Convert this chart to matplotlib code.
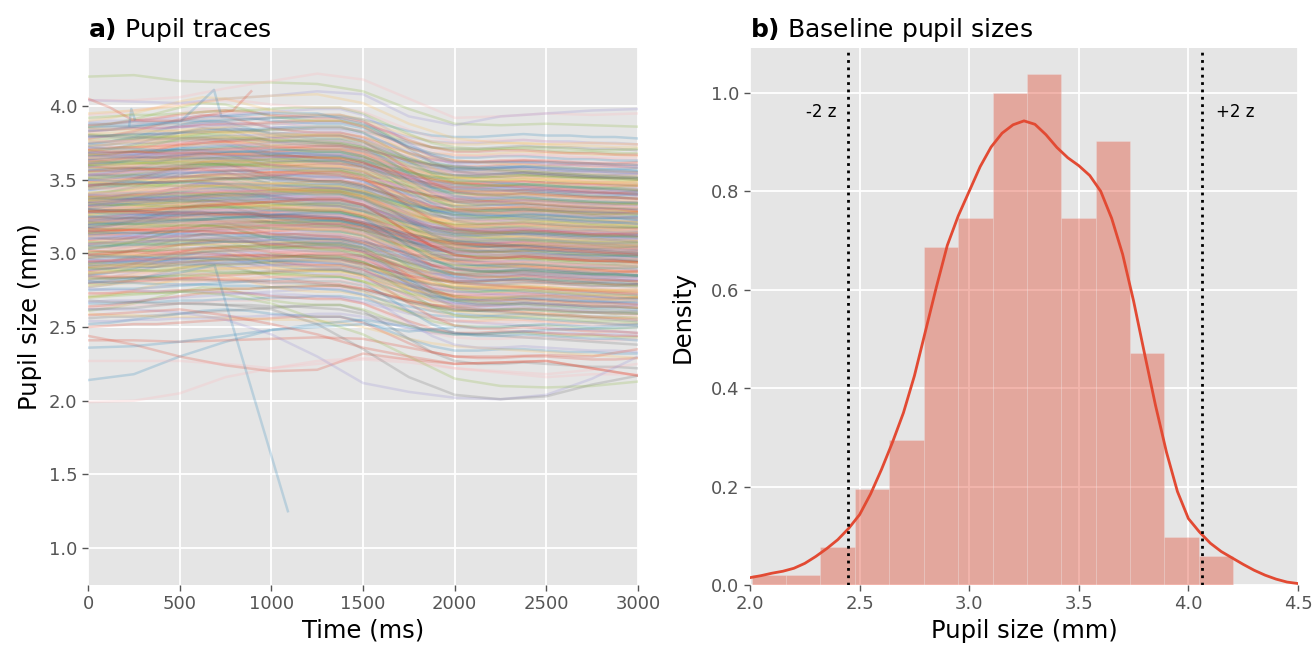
import matplotlib.pyplot as plt
import numpy as np

plt.style.use("ggplot")

palette = ["#E24A33", "#348ABD", "#988ED5", "#777777", "#FBC15E", "#8EBA42", "#FFB5B8"]

# ---- panel a: pupil traces -------------------------------------------------
# time grid of the typed trace shapes (ms)
shape_t = list(range(0, 3001, 125))

# change from baseline
shape_typical = [0, .01, .02, .02, .03, .04, .05, .05, .06, .07, .07, .07, .03,
                 -.04, -.11, -.17, -.20, -.21, -.21, -.20, -.20, -.21, -.22, -.22, -.21]
shape_early = [0, .01, .03, .05, .07, .09, .10, .09, .07, .06, .05, .05, .02,
               -.04, -.10, -.15, -.18, -.18, -.17, -.17, -.18, -.19, -.19, -.20, -.20]
shape_small = [0, 0, .01, .01, .02, .02, .03, .03, .04, .04, .05, .05, .03,
               -.01, -.05, -.08, -.09, -.09, -.08, -.07, -.08, -.08, -.09, -.09, -.10]
shape_large = [0, .01, .01, .02, .03, .04, .05, .06, .07, .08, .09, .09, .05,
               -.04, -.14, -.23, -.29, -.31, -.31, -.30, -.31, -.32, -.33, -.33, -.34]
shape_decline = [0, -.01, -.01, -.02, -.02, -.02, -.03, -.03, -.04, -.04, -.05, -.06, -.09,
                 -.13, -.17, -.20, -.22, -.23, -.24, -.25, -.26, -.27, -.28, -.29, -.30]
shape_bump = [0, .02, .05, .09, .13, .16, .15, .11, .07, .05, .04, .04, .01,
              -.05, -.10, -.14, -.16, -.16, -.15, -.15, -.16, -.17, -.17, -.18, -.18]
trace_shapes = [shape_typical, shape_early, shape_small, shape_large, shape_decline, shape_bump]

# baseline of each trace in the dense band (mm)
baselines = [
    2.50, 2.52, 2.54, 2.56, 2.59, 2.61, 2.63,
    2.64, 2.66, 2.67, 2.68, 2.70, 2.71, 2.72, 2.73, 2.75, 2.76, 2.77, 2.78, 2.79,
    2.80, 2.80, 2.81, 2.82, 2.82, 2.83, 2.83, 2.84, 2.85, 2.85, 2.86, 2.86, 2.87, 2.87,
    2.88, 2.88, 2.89, 2.89, 2.90, 2.90, 2.90, 2.91, 2.91, 2.92, 2.92, 2.93, 2.93, 2.93,
    2.94, 2.94, 2.94, 2.945, 2.84, 2.86, 2.91,
    2.95, 2.95, 2.96, 2.96, 2.97, 2.97, 2.98, 2.98, 2.99, 2.99, 3.00, 3.00, 3.01, 3.01,
    3.02, 3.02, 3.03, 3.03, 3.04, 3.04, 3.05, 3.05, 3.06, 3.06, 3.07, 3.07, 3.08, 3.08,
    3.09, 3.09, 3.10, 3.10, 2.97, 3.00, 3.03, 3.06, 2.99, 3.05,
    3.11, 3.11, 3.12, 3.12, 3.12, 3.13, 3.13, 3.13, 3.14, 3.14, 3.14, 3.15, 3.15, 3.15,
    3.16, 3.16, 3.16, 3.17, 3.17, 3.17, 3.18, 3.18, 3.18, 3.19, 3.19, 3.19, 3.20, 3.20,
    3.20, 3.21, 3.21, 3.21, 3.22, 3.22, 3.22, 3.23, 3.23, 3.23, 3.24, 3.24, 3.24, 3.25,
    3.25, 3.25, 3.26, 3.26, 3.11, 3.15, 3.19, 3.23, 3.17,
    3.27, 3.27, 3.27, 3.28, 3.28, 3.28, 3.29, 3.29, 3.29, 3.30, 3.30, 3.30, 3.31, 3.31,
    3.31, 3.32, 3.32, 3.32, 3.33, 3.33, 3.33, 3.34, 3.34, 3.34, 3.35, 3.35, 3.35, 3.36,
    3.36, 3.36, 3.37, 3.37, 3.37, 3.38, 3.38, 3.38, 3.39, 3.39, 3.39, 3.40, 3.40, 3.40,
    3.41, 3.41, 3.41, 3.28, 3.30, 3.32, 3.34, 3.36, 3.38, 3.40, 3.29,
    3.43, 3.43, 3.44, 3.44, 3.45, 3.45, 3.46, 3.46, 3.47, 3.47, 3.48, 3.48, 3.49, 3.49,
    3.50, 3.50, 3.51, 3.51, 3.52, 3.52, 3.53, 3.53, 3.54, 3.54, 3.55, 3.55, 3.56, 3.56,
    3.57, 3.57, 3.45, 3.48, 3.51, 3.54, 3.46, 3.50, 3.53, 3.56,
    3.58, 3.58, 3.58, 3.59, 3.59, 3.59, 3.60, 3.60, 3.60, 3.61, 3.61, 3.61, 3.62, 3.62,
    3.62, 3.63, 3.63, 3.63, 3.64, 3.64, 3.64, 3.65, 3.65, 3.65, 3.66, 3.66, 3.66, 3.67,
    3.67, 3.67, 3.68, 3.68, 3.68, 3.69, 3.69, 3.70, 3.70, 3.71, 3.71, 3.72, 3.72, 3.73,
    3.73, 3.60, 3.65, 3.70,
    3.74, 3.75, 3.75, 3.76, 3.77, 3.77, 3.78, 3.79, 3.79, 3.80, 3.81, 3.81, 3.82, 3.83,
    3.83, 3.84, 3.85, 3.85, 3.86, 3.87, 3.87, 3.88, 3.89, 3.80,
    3.90, 3.92, 3.94,
]

# traces that stand out from the bundle, on a 250 ms grid
lone_t = list(range(0, 3001, 250))
lone_traces = [
    [2.14, 2.18, 2.30, 2.40, 2.48, 2.52, 2.55, 2.50, 2.45, 2.46, 2.48, 2.49, 2.50],
    [1.99, 2.00, 2.05, 2.16, 2.22, 2.27, 2.29, 2.28, 2.22, 2.20, 2.18, 2.21, 2.25],
    [2.44, 2.38, 2.30, 2.24, 2.20, 2.21, 2.32, 2.28, 2.25, 2.26, 2.27, 2.22, 2.17],
    [2.41, 2.41, 2.40, 2.41, 2.42, 2.43, 2.42, 2.36, 2.30, 2.30, 2.31, 2.30, 2.35],
    [2.36, 2.37, 2.40, 2.44, 2.48, 2.50, 2.52, 2.47, 2.50, 2.50, 2.52, 2.50, 2.52],
    [2.27, 2.27, 2.27, 2.25, 2.22, 2.25, 2.28, 2.26, 2.22, 2.19, 2.16, 2.18, 2.18],
    [2.62, 2.62, 2.60, 2.55, 2.45, 2.30, 2.12, 2.06, 2.02, 2.01, 2.04, 2.15, 2.30],
    [2.62, 2.63, 2.66, 2.65, 2.62, 2.52, 2.35, 2.16, 2.04, 2.01, 2.03, 2.11, 2.17],
    [2.70, 2.72, 2.74, 2.72, 2.66, 2.55, 2.45, 2.30, 2.15, 2.10, 2.09, 2.10, 2.13],
    [2.58, 2.60, 2.62, 2.58, 2.52, 2.45, 2.36, 2.30, 2.25, 2.26, 2.27, 2.22, 2.17],
    [4.20, 4.21, 4.17, 4.16, 4.16, 4.15, 4.10, 3.98, 3.88, 3.87, 3.88, 3.87, 3.86],
    [4.04, 4.04, 4.06, 4.12, 4.17, 4.22, 4.18, 4.05, 3.92, 3.93, 3.95, 3.94, 3.95],
    [4.04, 4.03, 4.02, 4.05, 4.07, 4.10, 4.08, 3.93, 3.87, 3.93, 3.95, 3.97, 3.98],
    [3.95, 3.97, 4.00, 4.05, 4.07, 4.08, 4.02, 3.88, 3.78, 3.75, 3.74, 3.75, 3.74],
]
lone_colors = ["#348ABD", "#FFB5B8", "#E24A33", "#E24A33", "#348ABD", "#FFB5B8", "#988ED5",
               "#777777", "#8EBA42", "#E24A33", "#8EBA42", "#FFB5B8", "#988ED5", "#FBC15E"]

# traces with blink artefacts
blink_dive_t = [0, 250, 500, 690, 1090]
blink_dive_y = [2.80, 2.83, 2.87, 2.92, 1.25]
blink_spike_t = [0, 250, 500, 687, 727, 1000, 1250, 1500, 1750, 2000, 2500, 3000]
blink_spike_y = [3.86, 3.87, 3.89, 4.11, 3.93, 3.95, 3.95, 3.88, 3.72, 3.62, 3.62, 3.60]
blink_red_t = [0, 120, 236, 300, 500, 790, 890]
blink_red_y = [4.05, 3.99, 3.91, 3.90, 3.90, 3.97, 4.10]
blink_small_t = [225, 236, 255]
blink_small_y = [3.87, 3.98, 3.91]

# ---- panel b: baseline histogram ------------------------------------------
bin_edges = [2.007, 2.164, 2.321, 2.479, 2.636, 2.793, 2.950, 3.107,
             3.264, 3.420, 3.577, 3.734, 3.891, 4.048, 4.205]
bin_density = [0.02, 0.02, 0.078, 0.196, 0.294, 0.686, 0.745, 1.0,
               1.039, 0.745, 0.902, 0.471, 0.098, 0.059]
kde_x = np.round(np.arange(2.0, 4.501, 0.05), 2)
kde_y = [0.015, 0.019, 0.024, 0.028, 0.034, 0.044, 0.058, 0.074, 0.092, 0.115,
         0.143, 0.185, 0.235, 0.29, 0.35, 0.425, 0.515, 0.605, 0.69, 0.75,
         0.80, 0.85, 0.89, 0.918, 0.935, 0.943, 0.936, 0.915, 0.889, 0.868,
         0.852, 0.832, 0.80, 0.745, 0.672, 0.577, 0.47, 0.365, 0.27, 0.19,
         0.135, 0.108, 0.085, 0.068, 0.055, 0.042, 0.03, 0.02, 0.012, 0.006, 0.003]
z_lines = [2.445, 4.0625]
z_labels = ["-2 z", "+2 z"]

# ---- figure ----------------------------------------------------------------
fig = plt.figure(figsize=(13.14, 6.48), dpi=100)
ax1 = fig.add_axes([0.0670, 0.0972, 0.4186, 0.8287])
ax2 = fig.add_axes([0.5708, 0.0972, 0.4170, 0.8287])

lw, alpha = 1.8, 0.24
for i, b in enumerate(baselines):
    shape = np.array(trace_shapes[i % len(trace_shapes)])
    ax1.plot(shape_t, b + shape, color=palette[i % len(palette)], lw=lw, alpha=alpha)
for y, c in zip(lone_traces, lone_colors):
    ax1.plot(lone_t, y, color=c, lw=lw, alpha=alpha)
ax1.plot(blink_dive_t, blink_dive_y, color="#348ABD", lw=lw, alpha=alpha)
ax1.plot(blink_spike_t, blink_spike_y, color="#348ABD", lw=lw, alpha=alpha)
ax1.plot(blink_red_t, blink_red_y, color="#E24A33", lw=lw, alpha=alpha)
ax1.plot(blink_small_t, blink_small_y, color="#348ABD", lw=lw, alpha=alpha)

ax1.set_xlim(0, 3000)
ax1.set_ylim(0.749, 4.394)
ax1.set_xticks([0, 500, 1000, 1500, 2000, 2500, 3000])
ax1.set_yticks([1.0, 1.5, 2.0, 2.5, 3.0, 3.5, 4.0])
ax1.set_xlabel("Time (ms)")
ax1.set_ylabel("Pupil size (mm)", labelpad=5)
ax1.set_title(r"$\mathbf{a)}$ Pupil traces", loc="left", pad=8, fontsize=18, color="black")

ax2.bar(bin_edges[:-1], bin_density, width=np.diff(bin_edges), align="edge",
        color="#E24A33", alpha=0.4, edgecolor="#EEEEEE", linewidth=0.4)
ax2.plot(kde_x, kde_y, color="#E24A33", lw=2)
for x, lab in zip(z_lines, z_labels):
    ax2.axvline(x, color="black", ls=":", lw=2)
    if x < 3.25:
        ax2.text(x - 0.05, 0.96, lab, ha="right", va="center", fontsize=12)
    else:
        ax2.text(x + 0.065, 0.96, lab, ha="left", va="center", fontsize=12)
ax2.set_xlim(2.0, 4.5)
ax2.set_ylim(0, 1.091)
ax2.set_xticks([2.0, 2.5, 3.0, 3.5, 4.0, 4.5])
ax2.set_yticks([0.0, 0.2, 0.4, 0.6, 0.8, 1.0])
ax2.set_xlabel("Pupil size (mm)")
ax2.set_ylabel("Density", labelpad=12)
ax2.set_title(r"$\mathbf{b)}$ Baseline pupil sizes", loc="left", pad=8, fontsize=18, color="black")

for ax in (ax1, ax2):
    ax.grid(True, color="white", lw=1.3)
    ax.set_axisbelow(True)
    ax.tick_params(labelsize=13, colors="#555555", length=4, width=1)
    ax.xaxis.label.set_size(17.5)
    ax.yaxis.label.set_size(17.5)
    ax.xaxis.label.set_color("black")
    ax.yaxis.label.set_color("black")
    ax.xaxis.labelpad = 4
    for s in ax.spines.values():
        s.set_visible(False)

fig.savefig("out.png", dpi=100)
